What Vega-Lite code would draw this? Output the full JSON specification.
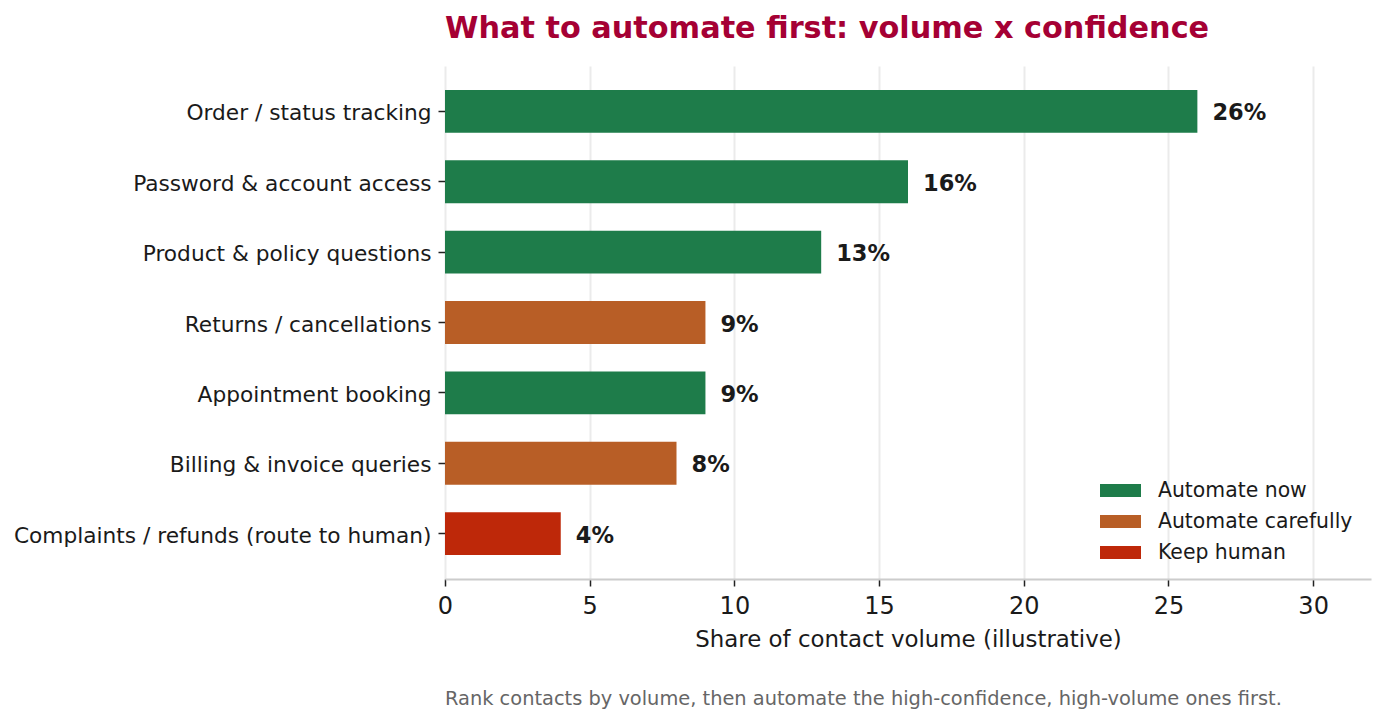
{
  "$schema": "https://vega.github.io/schema/vega-lite/v6.json",
  "background": "white",
  "padding": {"left": 13, "top": 13, "right": 15, "bottom": 10},
  "config": {
    "font": "DejaVu Sans",
    "view": {"stroke": null},
    "axis": {"labelColor": "#1a1a1a", "titleColor": "#1a1a1a", "tickColor": "#222222"}
  },
  "data": {
    "values": [
      {"topic": "Order / status tracking", "share": 26, "tier": "Automate now"},
      {"topic": "Password & account access", "share": 16, "tier": "Automate now"},
      {"topic": "Product & policy questions", "share": 13, "tier": "Automate now"},
      {"topic": "Returns / cancellations", "share": 9, "tier": "Automate carefully"},
      {"topic": "Appointment booking", "share": 9, "tier": "Automate now"},
      {"topic": "Billing & invoice queries", "share": 8, "tier": "Automate carefully"},
      {"topic": "Complaints / refunds (route to human)", "share": 4, "tier": "Keep human"}
    ]
  },
  "spacing": 38,
  "resolve": {"scale": {"color": "independent"}, "legend": {"color": "independent"}},
  "vconcat": [
    {
      "width": 926,
      "height": 513,
      "title": {
        "text": "What to automate first: volume x confidence",
        "anchor": "start",
        "frame": "group",
        "fontSize": 30.3,
        "fontWeight": "bold",
        "color": "#a50034",
        "offset": 22
      },
      "encoding": {
        "y": {
          "field": "topic",
          "type": "nominal",
          "sort": null,
          "title": null,
          "scale": {"paddingInner": 0.39, "paddingOuter": 0.34},
          "axis": {"domain": false, "labelFontSize": 21.7, "labelLimit": 0, "labelPadding": 7, "labelOffset": 2, "tickSize": 7, "tickWidth": 1.5, "grid": false}
        },
        "x": {
          "field": "share",
          "type": "quantitative",
          "title": "Share of contact volume (illustrative)",
          "scale": {"domain": [0, 32], "nice": false},
          "axis": {
            "values": [0, 5, 10, 15, 20, 25, 30],
            "labelFontSize": 24,
            "labelFlush": false,
            "titleFontSize": 22.9,
            "titleFontWeight": "normal",
            "titlePadding": 10,
            "labelPadding": 8,
            "tickSize": 7,
            "tickWidth": 1.5,
            "domainColor": "#cccccc",
            "domainWidth": 2,
            "gridColor": "#ebebeb",
            "gridWidth": 2
          }
        }
      },
      "layer": [
        {
          "mark": {"type": "bar"},
          "encoding": {
            "color": {
              "field": "tier",
              "type": "nominal",
              "scale": {
                "domain": ["Automate now", "Automate carefully", "Keep human"],
                "range": ["#1e7c4a", "#b85e26", "#be2809"]
              },
              "legend": {
                "title": null,
                "orient": "none",
                "legendX": 655,
                "legendY": 404,
                "padding": 0,
                "symbolType": "M-1,-0.32H1V0.32H-1Z",
                "symbolSize": 1681,
                "symbolStrokeWidth": 0,
                "labelFontSize": 20.4,
                "labelLimit": 0,
                "labelColor": "#1a1a1a",
                "labelOffset": 17,
                "rowPadding": -1.5
              }
            }
          }
        },
        {
          "mark": {
            "type": "text",
            "align": "left",
            "baseline": "middle",
            "dx": 15,
            "dy": 2,
            "fontSize": 22.5,
            "fontWeight": "bold",
            "color": "#1a1a1a",
            "text": {"expr": "datum.share + '%'"}
          },
          "encoding": {}
        }
      ]
    },
    {
      "width": 926,
      "height": 1,
      "title": {
        "text": "Rank contacts by volume, then automate the high-confidence, high-volume ones first.",
        "anchor": "start",
        "frame": "group",
        "fontSize": 19.4,
        "fontWeight": "normal",
        "color": "#666666",
        "offset": 0
      },
      "mark": {"type": "rule", "opacity": 0},
      "encoding": {}
    }
  ]
}
